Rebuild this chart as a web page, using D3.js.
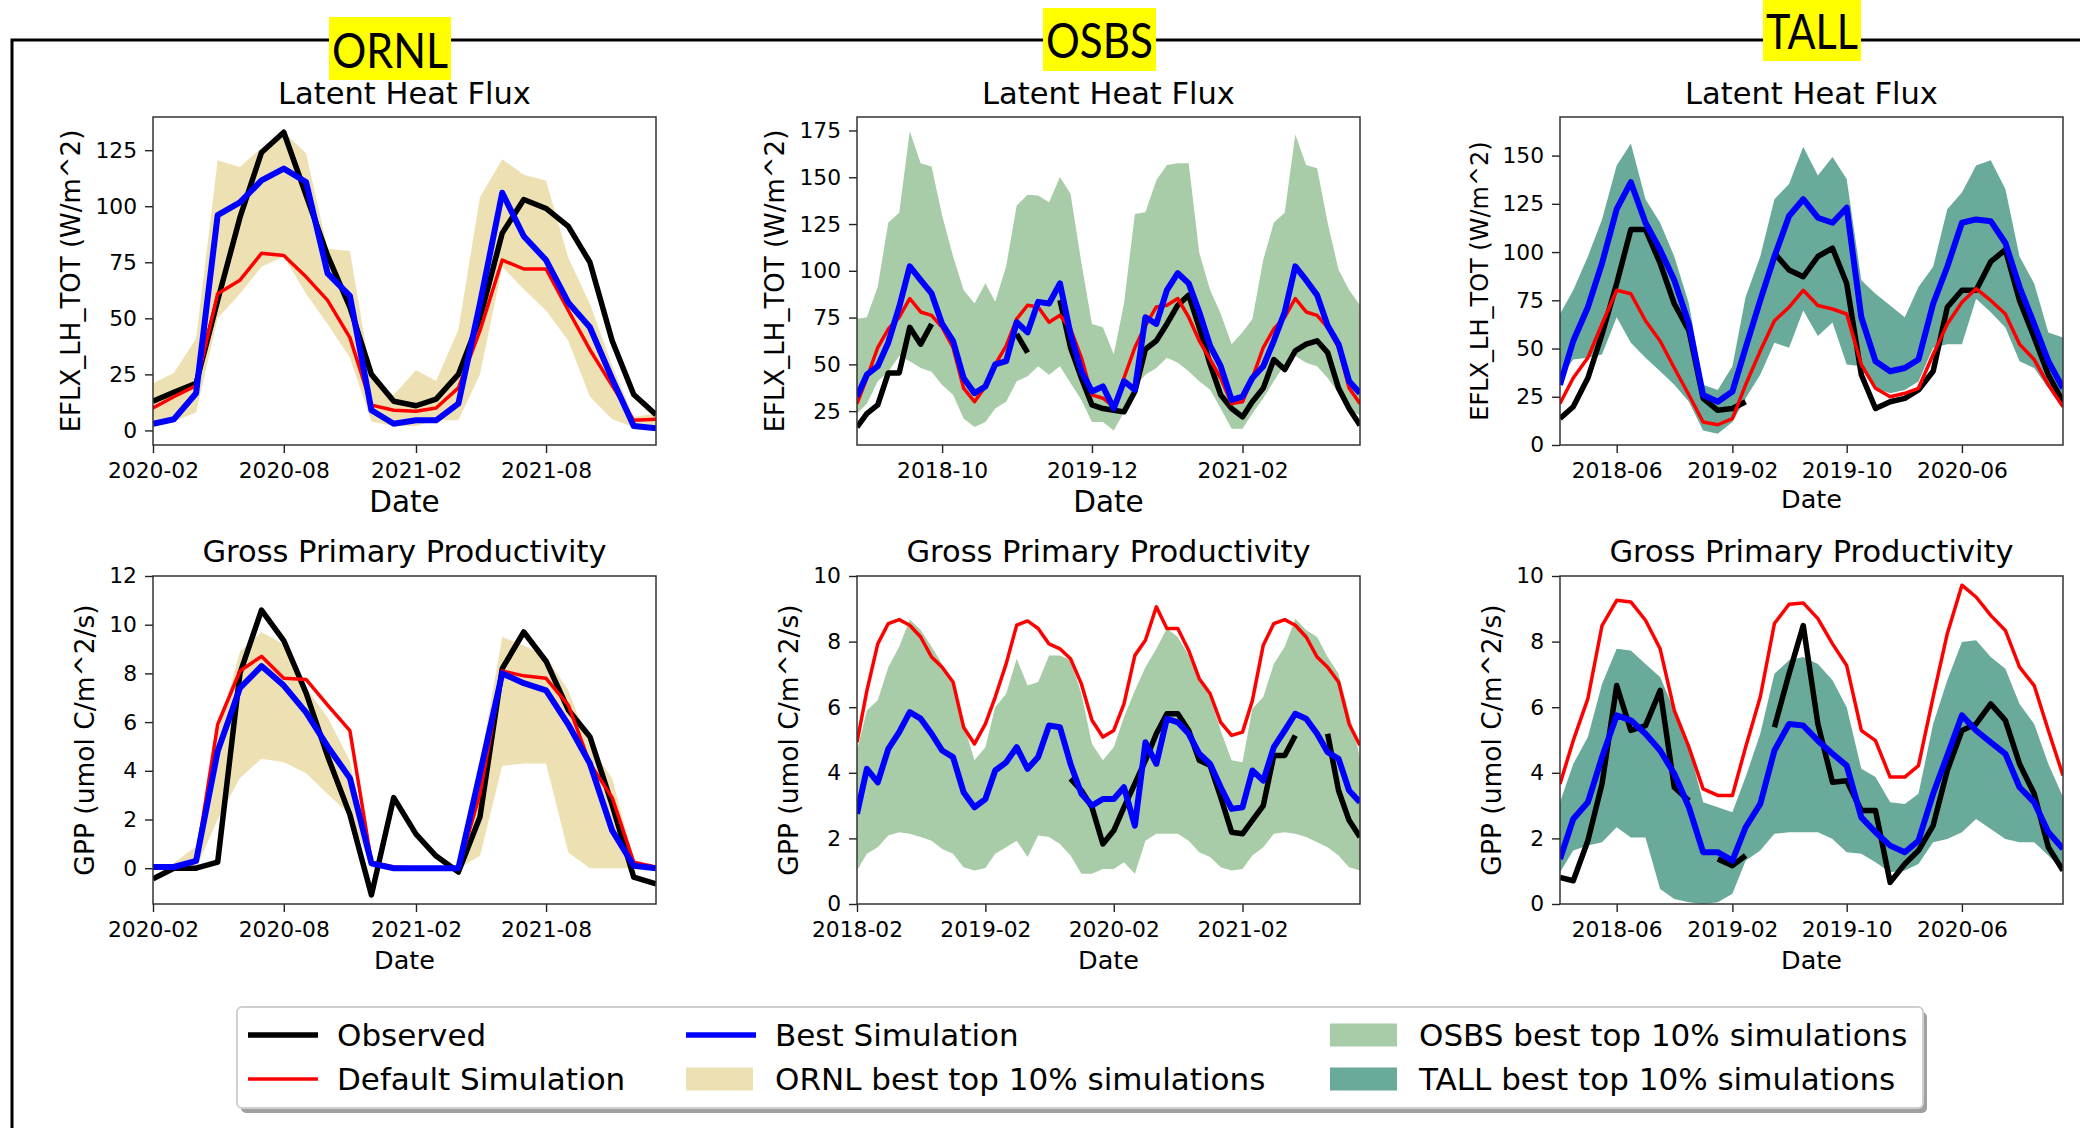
<!DOCTYPE html>
<meta charset="utf-8">
<style>
body { margin: 0; background: #fff; }
svg { display: block; background: #fff; }
text { font-family: "DejaVu Sans", sans-serif; fill: #000; }
.domain { display: none; }
.tick line { stroke: #222; stroke-width: 1.4px; }
.spine { fill: none; stroke: #333; stroke-width: 1.5px; }
.site text { font-family: Lato, "Open Sans", sans-serif; }
</style>
<body>
<div id="main"></div>
<script src="https://d3js.org/d3.v7.min.js"></script>
<script>

// ---- dates (monthly, one point per month) ----
const ornlMonths = d3.timeMonth.range(new Date(2020, 1, 1), new Date(2022, 1, 1));
const osbsMonths = d3.timeMonth.range(new Date(2018, 1, 1), new Date(2022, 1, 1));
const tallMonths = d3.timeMonth.range(new Date(2018, 1, 1), new Date(2021, 1, 1));

// ---- tick labels ----
const ornlTicks = ["2020-02", "2020-08", "2021-02", "2021-08"];
const osbsLhTicks = ["2018-10", "2019-12", "2021-02"];
const osbsGppTicks = ["2018-02", "2019-02", "2020-02", "2021-02"];
const tallTicks = ["2018-06", "2019-02", "2019-10", "2020-06"];
const lhTicksOrnl = [0, 25, 50, 75, 100, 125];
const lhTicksOsbs = [25, 50, 75, 100, 125, 150, 175];
const lhTicksTall = [0, 25, 50, 75, 100, 125, 150];
const gppTicksOrnl = [0, 2, 4, 6, 8, 10, 12];
const gppTicks = [0, 2, 4, 6, 8, 10];

// ---- ORNL latent heat flux ----
const ornlLhObs = [13, 17, 21, 58, 95, 124, 133, 105, 78, 55, 25, 13, 11, 14, 25, 50, 88, 103, 99, 91, 75, 40, 16, 7];
const ornlLhDefault = [10, 15, 20, 61, 67, 79, 78, 68.5, 58, 41.4, 11.3, 9, 8.6, 10, 19, 44.5, 76, 72, 72, 53.5, 36, 20, 4.5, 5];
const ornlLhBest = [3, 5, 16.6, 96, 101.7, 111.5, 116.8, 110.8, 70, 60, 9, 3, 4.5, 4.5, 12, 56.5, 106, 86.6, 76, 57, 46, 23, 2, 1];
const ornlLhHigh = [21, 25.6, 41, 120.5, 117.5, 126, 133, 123.6, 81, 80, 23, 15.8, 27, 22, 45, 104, 121, 114, 111.5, 77, 56.5, 29, 6, 7.5];
const ornlLhLow = [4, 4, 8, 50, 61, 73, 77.6, 61, 47.5, 32.4, 4, 2, 2, 4.5, 4.5, 25, 73, 63, 53.5, 40, 15, 5, 1.5, 1];

// ---- ORNL GPP ----
const ornlGppObs = [-0.44, 0, 0, 0.25, 8.0, 10.6, 9.35, 7.2, 4.6, 2.2, -1.1, 2.9, 1.4, 0.5, -0.16, 2.1, 8.2, 9.7, 8.5, 6.5, 5.4, 2.6, -0.37, -0.64];
const ornlGppDefault = [0, 0, 0.3, 5.9, 8.1, 8.7, 7.8, 7.75, 6.7, 5.65, 0.25, 0.05, 0, 0, 0, 3.05, 8.1, 7.9, 7.8, 6.7, 4.3, 2.9, 0.25, 0.05];
const ornlGppBest = [0.05, 0.05, 0.3, 4.8, 7.4, 8.3, 7.5, 6.4, 5.0, 3.7, 0.2, 0, 0, 0, 0, 3.9, 8.0, 7.6, 7.3, 5.9, 4.3, 1.55, 0.1, 0];
const ornlGppHigh = [0, 0.2, 0.9, 5.5, 8.9, 9.7, 9.2, 7.4, 6.2, 4.4, 0.3, 0, 0, 0, 0.1, 4.3, 9.5, 9.15, 8.7, 7.3, 5.0, 3.7, 0.3, 0.1];
const ornlGppLow = [0, 0, 0, 2.0, 3.7, 4.5, 4.35, 3.9, 3.05, 2.2, 0, 0, 0, 0, 0, 0.5, 4.2, 4.3, 4.3, 0.65, 0, 0, 0, 0];

// ---- OSBS latent heat flux ----
const osbsLhObs = [16.5, 23.7, 28.3, 45.4, 45.4, 69.8, 60.8, 71.6, null, null, null, null, null, null, null, 66.2,
  56.3, null, null, 84.3, 59, 42.7, 28.3, 26.4, 25.5, 24.6, 35.5, 58.1, 62.6, 71.6, 81.6, 87,
  69.8, 50, 33.7, 26.4, 21.9, 30, 37.3, 52.6, 47.2, 57.2, 60.8, 62.6, 56.3, 37.3, 26.4, 17.4];
const osbsLhDefault = [29, 42.7, 59, 68.9, 75.2, 85.2, 78, 76.2, 69.8, 59, 37.3, 30, 38.2, 50, 59.9, 74.3,
  81.6, 80.7, 72.5, 76.2, 68.9, 53.5, 33.7, 31.9, 27.4, 42.7, 59, 70.7, 80.7, 81.6, 85.2, 75.2,
  62.6, 52.6, 42.7, 29, 30, 42.7, 59, 68.9, 75.2, 85.2, 78, 76.2, 69.8, 59, 37.3, 29];
const osbsLhBest = [32.8, 44.5, 49, 61.7, 80.7, 102.4, 95, 87.9, 71.6, 62.6, 42.7, 34.6, 38.2, 50, 51.7, 72.5,
  67.1, 83.4, 82.5, 93.3, 66.2, 46.3, 35.5, 38.2, 26.4, 41, 36.4, 75.2, 71.6, 89.7, 98.7, 93.3,
  78, 59.9, 49, 31, 32.8, 42.7, 49, 62.6, 78, 102.4, 95, 87, 70.7, 60.8, 41, 34.6];
const osbsLhHigh = [74.3, 75.2, 91.5, 125.8, 131, 174.6, 157.5, 155.7, 129.5, 107.8, 89.7, 82.5, 93.3, 83.4, 102.4, 134.9,
  140.7, 140.3, 136.7, 150.2, 141.2, 104.2, 71.6, 69.8, 55.4, 82.5, 130.4, 131.3, 148.4, 156.6, 157.5, 157.5,
  109.6, 89.7, 77.1, 60.8, 67.1, 74.3, 105.9, 125.8, 131, 172.8, 156.6, 154.8, 125.8, 100.5, 89.7, 81.6];
const osbsLhLow = [23.7, 29, 41, 46, 54.5, 51.7, 48, 46, 39, 33.7, 21, 16.5, 19.2, 26.4, 30, 41,
  43.6, 49, 44.5, 49, 40, 31, 19.2, 19.2, 14.7, 24.6, 38.2, 44.5, 48, 53.5, 50.8, 46.3,
  41, 36.4, 26.4, 15.6, 15.6, 23.7, 31.9, 41, 50, 54.5, 50.8, 49, 42.7, 34.6, 25.5, 22.8];

// ---- OSBS GPP ----
const osbsGppObs = [null, null, null, null, null, null, null, null, null, null, null, null, null, null, null, null,
  null, null, null, null, 3.82, 3.46, 2.95, 1.83, 2.24, 2.95, 3.67, 4.38, 5.19, 5.8, 5.8, 5.29,
  4.38, 4.22, 3.26, 2.19, 2.14, 2.55, 3.0, 4.53, 4.53, 5.14, null, null, 5.19, 3.46, 2.55, 2.04];
const osbsGppDefault = [4.93, 6.5, 7.93, 8.55, 8.67, 8.5, 8.14, 7.53, 7.22, 6.77, 5.39, 4.88, 5.49, 6.31, 7.32, 8.5,
  8.63, 8.4, 7.93, 7.78, 7.48, 6.71, 5.6, 5.09, 5.29, 6.1, 7.58, 8.04, 9.06, 8.4, 8.4, 7.73,
  6.87, 6.41, 5.54, 5.14, 5.24, 6.2, 7.89, 8.55, 8.67, 8.5, 8.14, 7.53, 7.22, 6.77, 5.49, 4.83];
const osbsGppBest = [2.75, 4.12, 3.71, 4.73, 5.24, 5.85, 5.65, 5.19, 4.68, 4.48, 3.41, 2.95, 3.2, 4.07, 4.32, 4.78,
  4.12, 4.48, 5.44, 5.39, 4.27, 3.36, 3.0, 3.2, 3.2, 3.56, 2.39, 4.93, 4.27, 5.65, 5.54, 5.19,
  4.58, 4.27, 3.56, 2.9, 2.95, 4.07, 3.76, 4.78, 5.29, 5.8, 5.65, 5.19, 4.63, 4.43, 3.46, 3.1];
const osbsGppHigh = [4.68, 5.9, 6.21, 7.22, 7.84, 8.67, 8.35, 7.84, 7.32, 6.71, 5.49, 4.38, 4.78, 6.0, 6.41, 7.48,
  6.66, 6.77, 7.58, 7.58, 7.43, 6.41, 4.88, 4.38, 4.78, 5.7, 6.51, 7.22, 7.78, 8.4, 8.14, 7.58,
  6.82, 6.31, 5.29, 4.38, 4.32, 5.95, 6.31, 7.32, 7.84, 8.7, 8.35, 8.14, 7.53, 7.02, 5.8, 4.48];
const osbsGppLow = [1.02, 1.53, 1.73, 2.09, 2.19, 2.14, 2.04, 1.93, 1.68, 1.53, 1.12, 1.02, 1.1, 1.53, 1.73, 1.93,
  1.43, 2.09, 2.04, 1.83, 1.48, 0.92, 0.92, 1.07, 1.07, 1.27, 0.92, 1.93, 2.14, 2.14, 2.14, 1.93,
  1.58, 1.43, 1.12, 1.02, 1.07, 1.48, 1.73, 2.14, 2.19, 2.14, 2.04, 1.88, 1.73, 1.48, 1.12, 1.02];

// ---- TALL latent heat flux ----
const tallLhObs = [13.7, 19.8, 34.7, 57.4, 83.7, 111.7, 111.7, 94.2, 73.2, 59.2, 24.2, 18, 18.9, 22.4, null, 99.4,
  90.7, 87.2, 97.7, 102, 83.7, 36.4, 18.9, 22.4, 24.2, 28.5, 38.2, 71.4, 80.2, 80.2, 95, 101.2,
  74.9, 55.7, 36.4, 22.4];
const tallLhDefault = [21.5, 34.7, 45.2, 62.7, 80.2, 78.4, 64.4, 53.9, 39.9, 25.9, 11.9, 10.5, 13.7, 31.2, 48.7, 64.4,
  71.4, 80.2, 72.3, 70.5, 67.9, 41.7, 29.4, 25, 26.8, 29.4, 46.9, 62.7, 74, 81, 74.9, 67.9,
  52.2, 44.3, 31.2, 19.8];
const tallLhBest = [31.2, 53.9, 71.4, 94.2, 122.2, 136.2, 115.2, 101.2, 85.4, 62.7, 25.9, 22.4, 27.7, 50.4, 74.9, 97.7,
  118.7, 127.4, 117.8, 115.2, 123, 66.2, 43.4, 38.2, 39.9, 44.3, 73.2, 92.4, 115.2, 116.9, 116, 104.7,
  81.9, 62.7, 43.4, 29.4];
const tallLhHigh = [67.9, 80.2, 97.7, 116.9, 144.9, 156.3, 127.4, 115.2, 97.7, 73.2, 31.2, 28.5, 40.8, 76.7, 97.7, 127.4,
  135.3, 154.6, 139.7, 149.3, 137.9, 85.4, 78.4, 72.3, 66.2, 81.9, 92.4, 122.2, 130.9, 144.9, 147.6, 132.7,
  97.7, 83.7, 58.3, 55.7];
const tallLhLow = [34.7, 44.3, 45.2, 46.9, 66.2, 53, 45.2, 38.2, 31.2, 22.4, 7.5, 5.8, 11.9, 24.2, 36.4, 53,
  50.4, 69.7, 56.5, 63.5, 41.7, 40.8, 29.4, 26.8, 28.5, 32.9, 50.4, 52.2, 52.2, 75.8, 68.8, 60.9,
  43.4, 39.9, 29.4, 18.9];

// ---- TALL GPP ----
const tallGppObs = [0.81, 0.71, 1.93, 3.66, 6.66, 5.29, 5.44, 6.51, 3.56, 3.15, null, 1.37, 1.17, 1.48, null, 5.39,
  7.02, 8.49, 5.49, 3.71, 3.76, 2.85, 2.85, 0.66, 1.22, 1.63, 2.39, 4.07, 5.29, 5.49, 6.1, 5.6,
  4.27, 3.36, 1.73, 1.02];
const tallGppDefault = [3.66, 4.98, 6.26, 8.49, 9.26, 9.21, 8.65, 7.78, 5.9, 4.78, 3.51, 3.31, 3.31, 4.78, 6.31, 8.55,
  9.14, 9.18, 8.7, 7.93, 7.27, 5.29, 4.98, 3.87, 3.87, 4.22, 6.31, 8.24, 9.72, 9.36, 8.8, 8.34,
  7.22, 6.66, 5.29, 3.92];
const tallGppBest = [1.37, 2.59, 3.1, 4.48, 5.75, 5.6, 5.19, 4.68, 3.97, 2.95, 1.58, 1.58, 1.32, 2.34, 3.05, 4.68,
  5.49, 5.44, 4.98, 4.58, 4.22, 2.64, 2.19, 1.78, 1.58, 1.93, 3.36, 4.53, 5.75, 5.29, 4.93, 4.58,
  3.56, 3.1, 2.19, 1.68];
const tallGppHigh = [3.1, 4.27, 5.09, 6.71, 7.78, 7.73, 7.32, 6.92, 5.9, 4.78, 3.1, 2.95, 2.8, 3.87, 5.19, 7.02,
  7.43, 7.53, 7.32, 6.82, 6.0, 4.12, 3.87, 3.1, 3.05, 3.36, 5.49, 6.82, 7.99, 8.04, 7.53, 7.17,
  6.1, 5.49, 4.27, 3.26];
const tallGppLow = [0.97, 1.63, 1.78, 1.88, 2.34, 2.03, 2.03, 0.46, 0.15, 0.05, 0, 0.05, 0.31, 1.32, 1.63, 2.14,
  2.19, 2.19, 2.19, 1.98, 1.58, 1.53, 1.27, 0.97, 1.02, 1.22, 1.88, 1.98, 2.19, 2.59, 2.29, 1.98,
  1.88, 1.88, 1.48, 1.02];

const siteNames = ["ORNL", "OSBS", "TALL"];
const legendLabels = ["Observed", "Default Simulation", "Best Simulation",
  "ORNL best top 10% simulations", "OSBS best top 10% simulations", "TALL best top 10% simulations"];

// colours
const cObs = "#000000", cDef = "#ff0000", cBest = "#0000ff";
const cOrnl = "#ede1b3", cOsbs = "#a8cba8", cTall = "#6aaa9b";

const parseMonth = d3.timeParse("%Y-%m");
const fmtMonth = d3.timeFormat("%Y-%m");

const svg = d3.select("#main").append("svg")
    .attr("width", 2080)
    .attr("height", 1128);

// outer frame (top and left edges only are visible)
svg.append("path")
    .attr("d", "M12,1128V40H2080")
    .attr("fill", "none")
    .attr("stroke", "#000")
    .attr("stroke-width", 3);

// site labels on yellow
const siteBoxes = [
  {x: 329, y: 17, w: 122, h: 63, base: 67.5},
  {x: 1043, y: 8, w: 113, h: 63, base: 58},
  {x: 1763, y: 0, w: 98, h: 61, base: 49}
];
siteBoxes.forEach((b, i) => {
  const g = svg.append("g").attr("class", "site");
  g.append("rect").attr("x", b.x).attr("y", b.y).attr("width", b.w).attr("height", b.h).attr("fill", "#ffff00");
  g.append("text")
      .attr("x", b.x + b.w / 2)
      .attr("y", b.base)
      .attr("text-anchor", "middle")
      .attr("font-size", 48)
      .attr("textLength", b.w - 6)
      .attr("lengthAdjust", "spacingAndGlyphs")
      .text(siteNames[i]);
});

const colLeft = [153, 857, 1560];
const rowTop = [117, 576];
const pw = 503, ph = 328;

const panels = [
  {col: 0, row: 0, months: ornlMonths, ticks: ornlTicks, yTicks: lhTicksOrnl, yDomain: [-6.5, 139.8],
    obs: ornlLhObs, def: ornlLhDefault, best: ornlLhBest, high: ornlLhHigh, low: ornlLhLow, fill: cOrnl,
    title: "Latent Heat Flux", ylabel: "EFLX_LH_TOT (W/m^2)", ylabSize: 26, ylabDx: -82, xlabSize: 29.5, xlabY: 512},
  {col: 1, row: 0, months: osbsMonths, ticks: osbsLhTicks, yTicks: lhTicksOsbs, yDomain: [6.9, 182.2],
    obs: osbsLhObs, def: osbsLhDefault, best: osbsLhBest, high: osbsLhHigh, low: osbsLhLow, fill: cOsbs,
    title: "Latent Heat Flux", ylabel: "EFLX_LH_TOT (W/m^2)", ylabSize: 26, ylabDx: -82, xlabSize: 29.5, xlabY: 512},
  {col: 2, row: 0, months: tallMonths, ticks: tallTicks, yTicks: lhTicksTall, yDomain: [0, 170],
    obs: tallLhObs, def: tallLhDefault, best: tallLhBest, high: tallLhHigh, low: tallLhLow, fill: cTall,
    title: "Latent Heat Flux", ylabel: "EFLX_LH_TOT (W/m^2)", ylabSize: 24, ylabDx: -80, xlabSize: 25.5, xlabY: 508},
  {col: 0, row: 1, months: ornlMonths, ticks: ornlTicks, yTicks: gppTicksOrnl, yDomain: [-1.47, 12],
    obs: ornlGppObs, def: ornlGppDefault, best: ornlGppBest, high: ornlGppHigh, low: ornlGppLow, fill: cOrnl,
    title: "Gross Primary Productivity", ylabel: "GPP (umol C/m^2/s)", ylabSize: 26.5, ylabDx: -68, xlabSize: 25.5, xlabY: 969},
  {col: 1, row: 1, months: osbsMonths, ticks: osbsGppTicks, yTicks: gppTicks, yDomain: [0, 10],
    obs: osbsGppObs, def: osbsGppDefault, best: osbsGppBest, high: osbsGppHigh, low: osbsGppLow, fill: cOsbs,
    title: "Gross Primary Productivity", ylabel: "GPP (umol C/m^2/s)", ylabSize: 26.5, ylabDx: -68, xlabSize: 25.5, xlabY: 969},
  {col: 2, row: 1, months: tallMonths, ticks: tallTicks, yTicks: gppTicks, yDomain: [0, 10],
    obs: tallGppObs, def: tallGppDefault, best: tallGppBest, high: tallGppHigh, low: tallGppLow, fill: cTall,
    title: "Gross Primary Productivity", ylabel: "GPP (umol C/m^2/s)", ylabSize: 26.5, ylabDx: -68, xlabSize: 25.5, xlabY: 969}
];

const titleBase = [104, 561.5];

panels.forEach((p, k) => {
  const left = colLeft[p.col], top = rowTop[p.row];
  const x = d3.scaleTime().domain([p.months[0], p.months[p.months.length - 1]]).range([0, pw]);
  const y = d3.scaleLinear().domain(p.yDomain).range([ph, 0]);

  const g = svg.append("g").attr("transform", `translate(${left},${top})`);

  svg.append("clipPath").attr("id", "clip" + k)
    .append("rect").attr("width", pw).attr("height", ph);
  const plot = g.append("g").attr("clip-path", `url(#clip${k})`);

  const area = d3.area()
      .x((d, i) => x(p.months[i]))
      .y0((d, i) => y(p.low[i]))
      .y1(d => y(d));
  plot.append("path").datum(p.high).attr("d", area).attr("fill", p.fill);

  const line = d3.line()
      .defined(d => d != null)
      .x((d, i) => x(p.months[i]))
      .y(d => y(d));

  const series = [
    {v: p.obs, c: cObs, w: 5.5},
    {v: p.def, c: cDef, w: 3.5},
    {v: p.best, c: cBest, w: 6}
  ];
  series.forEach(s => {
    plot.append("path").datum(s.v)
        .attr("d", line)
        .attr("fill", "none")
        .attr("stroke", s.c)
        .attr("stroke-width", s.w)
        .attr("stroke-linejoin", "round");
  });

  // axes
  g.append("g")
      .attr("transform", `translate(0,${ph})`)
      .call(d3.axisBottom(x).tickValues(p.ticks.map(parseMonth)).tickFormat(fmtMonth).tickSize(8).tickPadding(10))
      .attr("font-size", 21.8)
      .attr("font-family", "DejaVu Sans");

  g.append("g")
      .call(d3.axisLeft(y).tickValues(p.yTicks).tickSize(8).tickPadding(8))
      .attr("font-size", 21.8)
      .attr("font-family", "DejaVu Sans");

  g.append("rect").attr("class", "spine").attr("width", pw).attr("height", ph);

  // title and labels
  svg.append("text")
      .attr("x", left + pw / 2)
      .attr("y", titleBase[p.row])
      .attr("text-anchor", "middle")
      .attr("font-size", 30.5)
      .text(p.title);

  svg.append("text")
      .attr("x", left + pw / 2)
      .attr("y", p.xlabY)
      .attr("text-anchor", "middle")
      .attr("font-size", p.xlabSize)
      .text("Date");

  svg.append("text")
      .attr("transform", `translate(${left + p.ylabDx},${top + ph / 2}) rotate(-90)`)
      .attr("text-anchor", "middle")
      .attr("dy", "0.35em")
      .attr("font-size", p.ylabSize)
      .text(p.ylabel);
});

// legend
const lg = svg.append("g");
lg.append("rect")
    .attr("x", 241).attr("y", 1012).attr("width", 1686).attr("height", 101)
    .attr("rx", 5).attr("fill", "#a0a0a0");
lg.append("rect")
    .attr("x", 237).attr("y", 1007).attr("width", 1686).attr("height", 101)
    .attr("rx", 5).attr("fill", "#fff").attr("stroke", "#cfcfcf").attr("stroke-width", 2);

const legendItems = [
  {kind: "line", color: cObs, w: 5.5, col: 0, row: 0},
  {kind: "line", color: cDef, w: 3.5, col: 0, row: 1},
  {kind: "line", color: cBest, w: 5.5, col: 1, row: 0},
  {kind: "patch", color: cOrnl, col: 1, row: 1},
  {kind: "patch", color: cOsbs, col: 2, row: 0},
  {kind: "patch", color: cTall, col: 2, row: 1}
];
const legColX = [248, 686, 1330];
const legRowY = [1035, 1079];

legendItems.forEach((it, i) => {
  const lx = legColX[it.col], ly = legRowY[it.row];
  if (it.kind === "line") {
    lg.append("line")
        .attr("x1", lx).attr("x2", lx + 70).attr("y1", ly).attr("y2", ly)
        .attr("stroke", it.color).attr("stroke-width", it.w);
  } else {
    lg.append("rect")
        .attr("x", lx).attr("y", ly - 11.5).attr("width", 67).attr("height", 23)
        .attr("fill", it.color);
  }
  lg.append("text")
      .attr("x", lx + 89)
      .attr("y", ly)
      .attr("dy", "0.35em")
      .attr("font-size", 31)
      .text(legendLabels[i]);
});

</script>
</body>
